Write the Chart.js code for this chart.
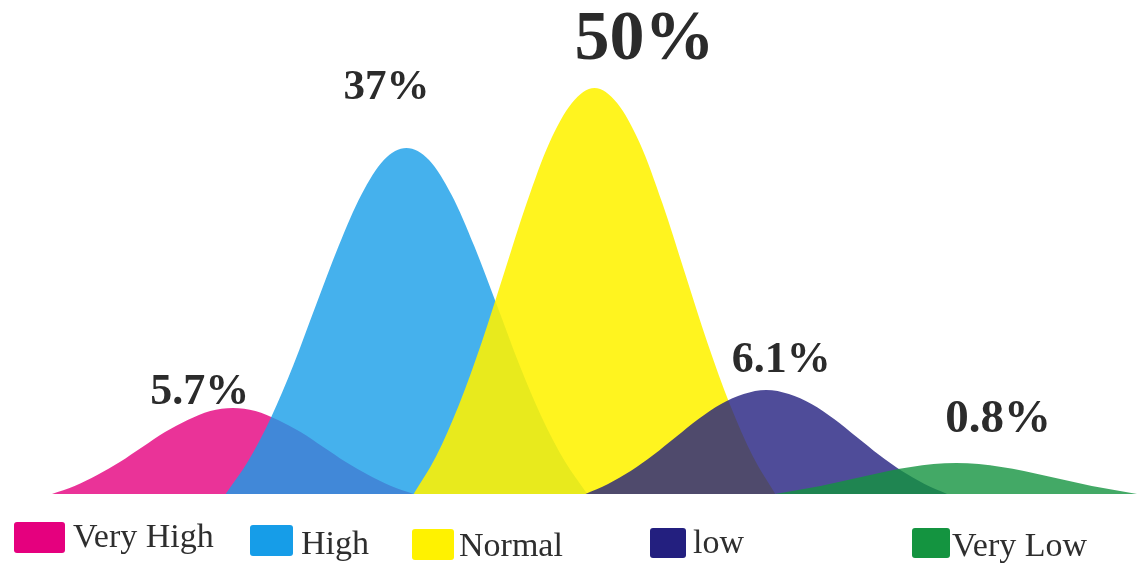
<!DOCTYPE html>
<html>
<head>
<meta charset="utf-8">
<script src="https://cdn.jsdelivr.net/npm/chart.js@4/dist/chart.umd.min.js"></script>
<style>
  body { margin: 0; background: #fff; }
  #wrap { position: relative; width: 1143px; height: 563px; }
  .item { position: absolute; font-family: "Liberation Serif", serif; font-size: 34px; line-height: 34px; color: #2e2e2e; white-space: nowrap; }
  .box { position: absolute; border-radius: 3px; }
</style>
</head>
<body>
<div id="wrap">
  <canvas id="grafico" width="1143" height="563"></canvas>
  <div id="leyenda"></div>
</div>
<script>
// categorias y etiquetas
const categorias = ['Very High', 'High', 'Normal', 'low', 'Very Low'];
const etiquetas = ['5.7%', '37%', '50%', '6.1%', '0.8%'];
const colores = ['#E5007E', '#169DE8', '#FFF200', '#231F7F', '#149440'];
const opacidad = [0.8, 0.8, 0.88, 0.8, 0.8];

// donde empieza cada campana en el eje x
const inicios = [0, 0.96, 2, 2.95, 4];
// posiciones dentro de cada campana
const pasos = [0, 0.125, 0.25, 0.375, 0.5, 0.625, 0.75, 0.875, 1,
               1.125, 1.25, 1.375, 1.5, 1.625, 1.75, 1.875, 2];

// alturas
const veryHigh = [0, 0.8, 1.9, 3.2, 4.7, 6.2, 7.4, 8.3, 8.6, 8.3, 7.4, 6.2, 4.7, 3.2, 1.9, 0.8, 0];
const high = [0, 3.3, 7.6, 12.9, 18.9, 24.8, 29.9, 33.4, 34.6, 33.4, 29.9, 24.8, 18.9, 12.9, 7.6, 3.3, 0];
const normal = [0, 3.8, 8.9, 15.1, 22.1, 29.1, 35.1, 39.1, 40.6, 39.1, 35.1, 29.1, 22.1, 15.1, 8.9, 3.8, 0];
const low = [0, 1.0, 2.3, 3.9, 5.7, 7.5, 9.0, 10.0, 10.4, 10.0, 9.0, 7.5, 5.7, 3.9, 2.3, 1.0, 0];
const veryLow = [0, 0.4, 0.8, 1.3, 1.8, 2.3, 2.7, 3.0, 3.1, 3.0, 2.7, 2.3, 1.8, 1.3, 0.8, 0.4, 0];

const series = [veryHigh, high, normal, low, veryLow];

// estilo de las etiquetas (desplazamiento respecto al pico, tamaño)
const etiquetaEstilo = [
    { dx: -33, dy: -4, size: 44 },
    { dx: -20, dy: -49, size: 43 },
    { dx: 50, dy: -29, size: 70 },
    { dx: 15, dy: -18, size: 44 },
    { dx: 42, dy: -31, size: 47 }
];

function HexRgba(hex, a) {
    let r = parseInt(hex.substr(1, 2), 16);
    let g = parseInt(hex.substr(3, 2), 16);
    let b = parseInt(hex.substr(5, 2), 16);
    return `rgba(${r}, ${g}, ${b}, ${a})`;
}

let datasets = [];
series.forEach(function (valores, i) {
    datasets.push({
        label: categorias[i],
        data: valores.map((v, j) => ({ x: inicios[i] + pasos[j], y: v })),
        backgroundColor: HexRgba(colores[i], opacidad[i]),
        borderWidth: 0,
        pointRadius: 0,
        fill: 'origin',
        cubicInterpolationMode: 'monotone',
        order: series.length - i
    });
});

const pluginEtiquetas = {
    id: 'etiquetas',
    afterDatasetsDraw(chart) {
        const ctx = chart.ctx;
        ctx.save();
        ctx.fillStyle = '#2b2b2b';
        ctx.textAlign = 'center';
        ctx.textBaseline = 'alphabetic';
        chart.data.datasets.forEach(function (ds, i) {
            let meta = chart.getDatasetMeta(i);
            let maxIdx = 0;
            ds.data.forEach((p, j) => { if (p.y > ds.data[maxIdx].y) maxIdx = j; });
            let punto = meta.data[maxIdx];
            let est = etiquetaEstilo[i];
            ctx.font = 'bold ' + est.size + 'px "Liberation Serif", serif';
            ctx.fillText(etiquetas[i], punto.x + est.dx, punto.y + est.dy);
        });
        ctx.restore();
    }
};

const ctx = document.getElementById('grafico');
new Chart(ctx, {
    type: 'line',
    data: { datasets: datasets },
    options: {
        responsive: false,
        animation: false,
        layout: { padding: { left: 52, right: 6, top: 0, bottom: 69 } },
        scales: {
            x: { type: 'linear', min: 0, max: 6, display: false },
            y: { min: 0, max: 49.4, display: false }
        },
        plugins: {
            legend: { display: false },
            tooltip: { enabled: false }
        }
    },
    plugins: [pluginEtiquetas]
});

// leyenda en html
const leyendaPos = [
    { box: [14, 522, 51, 31], text: [73, 519] },
    { box: [250, 525, 43, 31], text: [301, 526] },
    { box: [412, 529, 42, 31], text: [459, 528] },
    { box: [650, 528, 36, 30], text: [693, 525] },
    { box: [912, 528, 38, 30], text: [952, 528] }
];
let leyenda = document.getElementById('leyenda');
categorias.forEach(function (nombre, i) {
    let p = leyendaPos[i];
    let caja = document.createElement('div');
    caja.className = 'box';
    caja.style.left = p.box[0] + 'px';
    caja.style.top = p.box[1] + 'px';
    caja.style.width = p.box[2] + 'px';
    caja.style.height = p.box[3] + 'px';
    caja.style.background = colores[i];
    leyenda.appendChild(caja);
    let texto = document.createElement('div');
    texto.className = 'item';
    texto.style.left = p.text[0] + 'px';
    texto.style.top = p.text[1] + 'px';
    texto.textContent = nombre;
    leyenda.appendChild(texto);
});
</script>
</body>
</html>
